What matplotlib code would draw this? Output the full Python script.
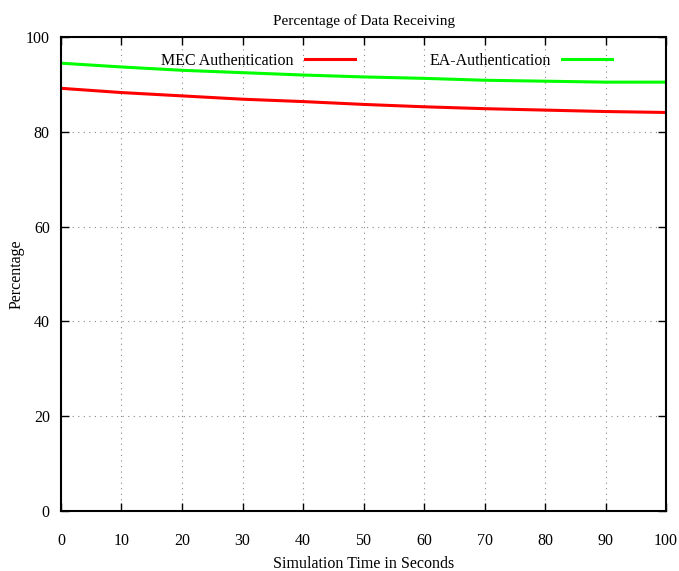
import matplotlib
matplotlib.use("Agg")
import matplotlib.pyplot as plt

time_s = [0, 10, 20, 30, 40, 50, 60, 70, 80, 90, 100]
mec_auth = [89.2, 88.3, 87.6, 86.9, 86.4, 85.8, 85.3, 84.9, 84.6, 84.3, 84.1]
ea_auth = [94.5, 93.7, 93.0, 92.5, 92.0, 91.6, 91.3, 90.9, 90.7, 90.5, 90.5]
x_ticks = [0, 10, 20, 30, 40, 50, 60, 70, 80, 90, 100]
y_ticks = [0, 20, 40, 60, 80, 100]

plt.rcParams['font.family'] = ['Liberation Serif', 'DejaVu Serif']
plt.rcParams['font.size'] = 11

fig = plt.figure(figsize=(6.79, 5.71), dpi=100)
ax = fig.add_axes([0.0898, 0.105, 0.8912, 0.830])

ax.plot(time_s, mec_auth, color='#ff0000', lw=2.2, label='MEC Authentication')
ax.plot(time_s, ea_auth, color='#00ff00', lw=2.2, label='EA-Authentication')

ax.set_xlim(0, 100)
ax.set_ylim(0, 100)
ax.set_xticks(x_ticks)
ax.set_yticks(y_ticks)
ax.grid(True, color='#888888', linestyle=(0, (1, 4)), linewidth=0.8)
ax.tick_params(direction='in', length=6, width=1, top=True, right=True, labelsize=11.5)
ax.tick_params(axis='x', pad=16)
ax.tick_params(axis='y', pad=8)
for s in ax.spines.values():
    s.set_linewidth(1.5)

ax.set_title('Percentage of Data Receiving', fontsize=11, pad=9)
ax.set_xlabel('Simulation Time in Seconds', fontsize=11.5)
ax.xaxis.set_label_coords(0.5, -0.095)
ax.set_ylabel('Percentage', fontsize=11.5)
ax.yaxis.set_label_coords(-0.06, 0.5)

ax.legend(loc='upper center', ncol=2, frameon=False, markerfirst=False,
          handlelength=3.1, handletextpad=0.7, columnspacing=4.7, fontsize=11.5,
          bbox_to_anchor=(0.538, 0.997))

fig.savefig('out.png', dpi=100)
